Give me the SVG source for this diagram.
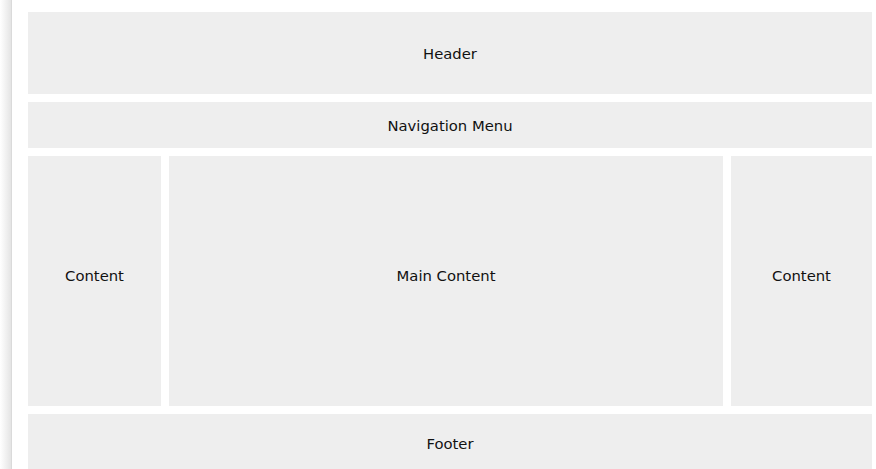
<svg xmlns="http://www.w3.org/2000/svg" width="876" height="469" viewBox="0 0 876 469">
<defs>
<linearGradient id="sh" x1="0" y1="0" x2="1" y2="0">
<stop offset="0" stop-color="#ffffff"/>
<stop offset="1" stop-color="#e4e4e4"/>
</linearGradient>
</defs>
<style>
.box{fill:#eeeeee}
.lbl{font-family:"DejaVu Sans",Verdana,sans-serif;font-size:14.8px;fill:#111;text-anchor:middle}
</style>
<rect width="876" height="469" fill="#ffffff"/>
<rect x="0" y="0" width="11" height="469" fill="url(#sh)"/>
<rect x="11" y="0" width="1" height="469" fill="#dadada"/>
<g id="header"><rect class="box" x="28" y="12" width="844" height="82"/><text class="lbl" x="450" y="59">Header</text></g>
<g id="nav"><rect class="box" x="28" y="102" width="844" height="46"/><text class="lbl" x="450" y="131">Navigation Menu</text></g>
<g id="left"><rect class="box" x="28" y="156" width="133" height="250"/><text class="lbl" x="94.5" y="281">Content</text></g>
<g id="main"><rect class="box" x="169" y="156" width="554" height="250"/><text class="lbl" x="446" y="281">Main Content</text></g>
<g id="right"><rect class="box" x="731" y="156" width="141" height="250"/><text class="lbl" x="801.5" y="281">Content</text></g>
<g id="footer"><rect class="box" x="28" y="414" width="844" height="60"/><text class="lbl" x="450" y="449">Footer</text></g>
<g id="connectors"/>
</svg>
